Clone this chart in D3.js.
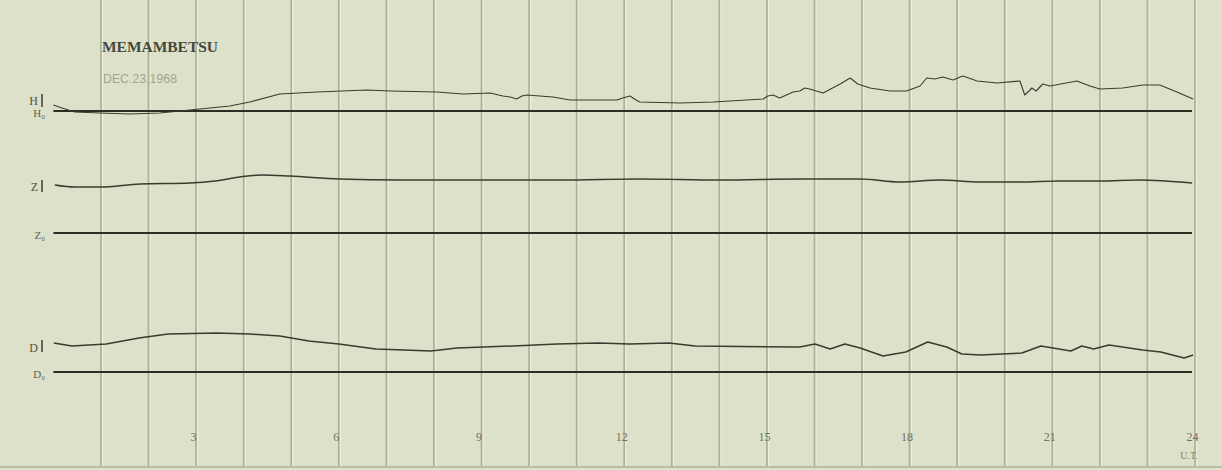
<!DOCTYPE html>
<html><head><meta charset="utf-8">
<script src="https://cdn.jsdelivr.net/npm/d3@7"></script>
<style>
html,body{margin:0;padding:0;background:#dde0c9;}
svg{display:block;}
</style></head>
<body>
<svg id="chart" width="1222" height="470"></svg>
<script>
// ---- data (hours UT, trace deflection above its baseline) ----
const hHours = [0.00,0.18,0.45,0.98,1.61,2.24,3.08,3.71,4.13,4.76,5.54,6.59,7.08,8.06,8.61,9.18,9.45,9.60,9.74,9.85,9.95,10.50,10.86,11.85,11.97,12.12,12.25,12.33,13.17,13.87,14.92,15.02,15.13,15.27,15.55,15.69,15.80,15.90,16.18,16.54,16.75,16.91,17.17,17.59,17.94,18.22,18.36,18.53,18.70,18.91,19.12,19.42,19.84,20.32,20.42,20.51,20.57,20.66,20.80,20.95,21.52,21.79,22.00,22.48,22.90,23.26,23.62,23.96];
const hValues = [6,3,-1,-2,-3,-2,2,5,9,17,19,21,20,19,17,18,15,14,12,15,16,14,11,11,13,15,11,9,8,9,12,15,16,13,19,20,23,22,18,27,33,27,23,20,20,25,33,32,34,31,35,30,28,30,16,20,23,20,27,25,30,25,22,23,26,26,19,12];

const zHours = [0.03,0.45,0.98,1.82,2.87,3.40,3.92,4.38,4.97,6.02,7.28,8.97,10.65,12.33,14.01,15.69,16.96,17.80,18.64,19.48,20.32,21.16,22.00,22.84,23.94];
const zValues = [48,46,46,49,50,52,56,58,57,54,53,53,53,54,53,54,54,51,53,51,51,52,52,53,50];

const dHours = [0.01,0.39,1.11,1.80,2.41,3.44,4.13,4.76,5.37,6.00,6.78,7.94,8.48,9.66,10.59,11.45,12.12,12.94,13.49,15.69,16.01,16.33,16.64,16.96,17.44,17.92,18.38,18.78,19.10,19.50,20.36,20.76,21.39,21.62,21.87,22.19,22.90,23.28,23.77,23.96];
const dValues = [29,26,28,34,38,39,38,36,31,28,23,21,24,26,28,29,28,29,26,25,28,23,28,24,16,20,30,25,18,17,19,26,21,26,23,27,22,20,14,17];

const gridHours = d3.range(1, 25);
const tickHours = [3,6,9,12,15,18,21,24];
const tickLabels = ["3","6","9","12","15","18","21","24"];
const traceNames = ["H","Z","D"];
const baseNames = ["H\u2080","Z\u2080","D\u2080"];
const title = "MEMAMBETSU";
const dateText = "DEC.23.1968";

// ---- drawing ----
const svg = d3.select("#chart");
const W = 1222, H = 470;
svg.append("rect").attr("width", W).attr("height", H).attr("fill", "#dee1ca");

const x = d3.scaleLinear().domain([0, 24]).range([53.4, 1195]);

// grid lines
svg.append("g").selectAll("line").data(gridHours).join("line")
  .attr("x1", d => x(d) + 1.6).attr("x2", d => x(d) + 1.6)
  .attr("y1", 0).attr("y2", 466)
  .attr("stroke", "#eef0dc").attr("stroke-width", 1.2);
svg.append("g").selectAll("line").data(gridHours).join("line")
  .attr("x1", d => x(d)).attr("x2", d => x(d))
  .attr("y1", 0).attr("y2", 466)
  .attr("stroke", "#acb097").attr("stroke-width", 1.7);
svg.append("line").attr("x1", 0).attr("x2", W).attr("y1", 467).attr("y2", 467)
  .attr("stroke", "#acb097").attr("stroke-width", 1.5);

// traces
const traces = [
  {hours: hHours, values: hValues, base: 111, lab: 101, mark: [94, 107], curve: d3.curveLinear, w: 1.1},
  {hours: zHours, values: zValues, base: 233, lab: 187, mark: [180, 192], curve: d3.curveMonotoneX, w: 1.5},
  {hours: dHours, values: dValues, base: 372, lab: 348, mark: [340, 352], curve: d3.curveLinear, w: 1.5}
];
traces.forEach((t, i) => {
  const y = d3.scaleLinear().domain([0, 60]).range([t.base, t.base - 60]);
  svg.append("line")
    .attr("x1", x(0)).attr("x2", x(24) - 3)
    .attr("y1", y(0)).attr("y2", y(0))
    .attr("stroke", "#2b2f23").attr("stroke-width", 1.9);
  const pts = t.hours.map((h, k) => [h, t.values[k]]);
  const line = d3.line().x(d => x(d[0])).y(d => y(d[1])).curve(t.curve);
  svg.append("path").datum(pts).attr("d", line)
    .attr("fill", "none").attr("stroke", "#383c2e").attr("stroke-width", t.w)
    .attr("stroke-linejoin", "round");
  svg.append("text").attr("x", 38).attr("y", t.lab + 4).attr("text-anchor", "end")
    .attr("font-family", "Liberation Serif, serif").attr("font-size", 12)
    .attr("fill", "#4f5344").text(traceNames[i]);
  svg.append("line").attr("x1", 42).attr("x2", 42)
    .attr("y1", t.mark[0]).attr("y2", t.mark[1])
    .attr("stroke", "#3b3f31").attr("stroke-width", 1.5);
  svg.append("text").attr("x", 45).attr("y", t.base + 6).attr("text-anchor", "end")
    .attr("font-family", "Liberation Serif, serif").attr("font-size", 11)
    .attr("fill", "#5f6352").text(baseNames[i]);
});

// axis labels
const ax = svg.append("g").attr("transform", "translate(0,444)")
  .call(d3.axisBottom(x).tickValues(tickHours).tickSize(0).tickPadding(0)
    .tickFormat((d, k) => tickLabels[k]));
ax.select(".domain").remove();
ax.selectAll("text").attr("font-family", "Liberation Serif, serif")
  .attr("font-size", 12).attr("fill", "#6e725e").attr("dx", -3).attr("dy", -3);
svg.append("text").attr("x", x(24) - 6).attr("y", 459).attr("text-anchor", "middle")
  .attr("font-family", "Liberation Serif, serif").attr("font-size", 10)
  .attr("fill", "#7e826d").text("U.T.");

// title
svg.append("text").attr("x", 102).attr("y", 52)
  .attr("font-family", "Liberation Serif, serif").attr("font-weight", "bold")
  .attr("font-size", 15).attr("textLength", 116).attr("lengthAdjust", "spacingAndGlyphs")
  .attr("fill", "#44483a").text(title);
svg.append("text").attr("x", 103).attr("y", 83)
  .attr("font-family", "Liberation Sans, sans-serif")
  .attr("font-size", 13).attr("textLength", 74).attr("lengthAdjust", "spacingAndGlyphs")
  .attr("fill", "#a2a58f").text(dateText);
</script>
</body></html>
